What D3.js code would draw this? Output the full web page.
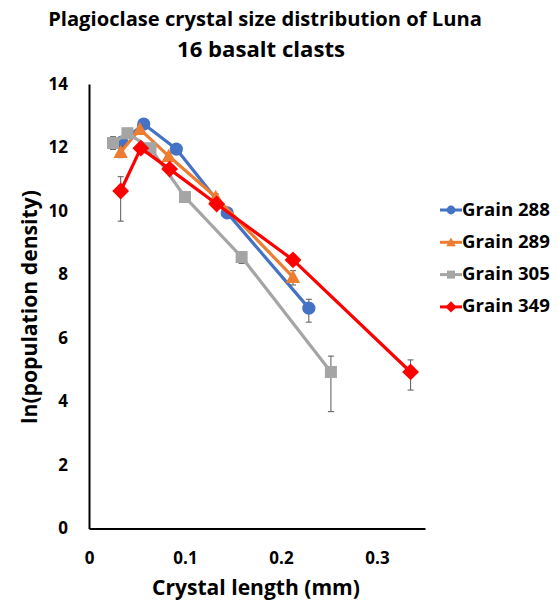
<!DOCTYPE html>
<html><head><meta charset="utf-8">
<script src="https://cdn.jsdelivr.net/npm/d3@7"></script>
<style>body{margin:0;background:#fff}svg{display:block}text{font-family:"Open Sans",Lato,sans-serif;font-weight:bold;fill:#000}</style>
</head><body><svg id="c" width="559" height="603"></svg>
<script>
const title = ["Plagioclase crystal size distribution of Luna", "16 basalt clasts"];
const xLabel = "Crystal length (mm)";
const yLabel = "ln(population density)";
const xTicks = [0, 0.1, 0.2, 0.3];
const yTicks = [0, 2, 4, 6, 8, 10, 12, 14];
const seriesNames = ["Grain 288", "Grain 289", "Grain 305", "Grain 349"];
const seriesColors = ["#4472C4", "#ED7D31", "#A5A5A5", "#FF0000"];
const seriesShapes = ["circle", "triangle", "square", "diamond"];

const x288 = [0.034, 0.057, 0.091, 0.144, 0.229];
const y288 = [12.17, 12.74, 11.95, 9.94, 6.94];
const ep288 = [0.15, 0.1, 0.1, 0.1, 0.28];
const em288 = [0.15, 0.1, 0.1, 0.1, 0.44];

const x289 = [0.033, 0.053, 0.083, 0.132, 0.2125];
const y289 = [11.86, 12.58, 11.73, 10.44, 7.92];
const ep289 = [0.18, 0.1, 0.1, 0.1, 0.2];
const em289 = [0.18, 0.1, 0.1, 0.1, 0.25];

const x305 = [0.025, 0.040, 0.064, 0.100, 0.159, 0.252];
const y305 = [12.14, 12.45, 11.98, 10.44, 8.55, 4.93];
const ep305 = [0.2, 0.1, 0.1, 0.1, 0.15, 0.5];
const em305 = [0.2, 0.1, 0.1, 0.1, 0.2, 1.25];

const x349 = [0.033, 0.054, 0.084, 0.133, 0.2125, 0.335];
const y349 = [10.63, 11.98, 11.32, 10.22, 8.46, 4.93];
const ep349 = [0.45, 0.1, 0.1, 0.1, 0.15, 0.38];
const em349 = [0.95, 0.1, 0.1, 0.1, 0.15, 0.57];

const seriesX = [x288, x289, x305, x349];
const seriesY = [y288, y289, y305, y349];
const seriesEP = [ep288, ep289, ep305, ep349];
const seriesEM = [em288, em289, em305, em349];

const svg = d3.select("#c");
const xs = d3.scaleLinear().domain([0, 0.35]).range([89, 425]);
const ys = d3.scaleLinear().domain([0, 14]).range([528.5, 84]);

function fit(sel, w) {
  const fs = +sel.attr("font-size");
  const cur = sel.node().getComputedTextLength();
  if (cur > 0) sel.attr("font-size", (fs * w / cur).toFixed(2));
  return sel;
}

fit(svg.append("text").attr("x", 265).attr("y", 26).attr("text-anchor", "middle").attr("font-size", 18).text(title[0]), 434);
fit(svg.append("text").attr("x", 261).attr("y", 57).attr("text-anchor", "middle").attr("font-size", 18).text(title[1]), 168);

const xAxis = svg.append("g").attr("transform", `translate(0,${ys(0)})`)
  .call(d3.axisBottom(xs).tickValues(xTicks).tickSize(0).tickPadding(23).tickFormat(d => d === 0 ? "0" : d3.format(".1f")(d)));
xAxis.select(".domain").attr("stroke", "#000").attr("stroke-width", 2);
xAxis.selectAll("text").attr("font-size", 17).attr("font-family", "Open Sans").attr("font-weight", "bold");

const yAxis = svg.append("g").attr("transform", `translate(${xs(0)},0)`)
  .call(d3.axisLeft(ys).tickValues(yTicks).tickSize(0).tickPadding(21));
yAxis.select(".domain").attr("stroke", "#000").attr("stroke-width", 2);
yAxis.selectAll("text").attr("font-size", 17).attr("font-family", "Open Sans").attr("font-weight", "bold");

fit(svg.append("text").attr("x", 256).attr("y", 595).attr("text-anchor", "middle").attr("font-size", 18).text(xLabel), 208);
fit(svg.append("text").attr("transform", "translate(37,307) rotate(-90)").attr("text-anchor", "middle").attr("font-size", 18).text(yLabel), 234);

function marker(g, shape, color, cx, cy, s) {
  if (shape === "circle") g.append("circle").attr("cx", cx).attr("cy", cy).attr("r", s * 0.55).attr("fill", color);
  else if (shape === "square") g.append("rect").attr("x", cx - s * 0.5).attr("y", cy - s * 0.5).attr("width", s).attr("height", s).attr("fill", color);
  else if (shape === "triangle") g.append("path").attr("d", `M${cx},${cy - s * 0.6}L${cx + s * 0.6},${cy + s * 0.5}L${cx - s * 0.6},${cy + s * 0.5}Z`).attr("fill", color);
  else if (shape === "diamond") g.append("path").attr("d", `M${cx},${cy - s * 0.7}L${cx + s * 0.7},${cy}L${cx},${cy + s * 0.7}L${cx - s * 0.7},${cy}Z`).attr("fill", color);
}

const line = d3.line().x(d => xs(d[0])).y(d => ys(d[1]));

seriesNames.forEach((name, i) => {
  const pts = seriesX[i].map((xv, j) => [xv, seriesY[i][j], seriesEP[i][j], seriesEM[i][j]]);
  const g = svg.append("g");
  pts.forEach(p => {
    const px = xs(p[0]);
    g.append("line").attr("x1", px).attr("x2", px).attr("y1", ys(p[1] + p[2])).attr("y2", ys(p[1] - p[3])).attr("stroke", "#595959").attr("stroke-width", 1);
    [p[1] + p[2], p[1] - p[3]].forEach(v => g.append("line").attr("x1", px - 3).attr("x2", px + 3).attr("y1", ys(v)).attr("y2", ys(v)).attr("stroke", "#595959").attr("stroke-width", 1));
  });
  g.append("path").datum(pts).attr("d", line).attr("fill", "none").attr("stroke", seriesColors[i]).attr("stroke-width", 3.2).attr("stroke-linejoin", "round");
  pts.forEach(p => marker(g, seriesShapes[i], seriesColors[i], xs(p[0]), ys(p[1]), 12));
});

seriesNames.forEach((name, i) => {
  const ly = 210 + i * 32.3;
  const g = svg.append("g");
  g.append("line").attr("x1", 440).attr("x2", 462).attr("y1", ly).attr("y2", ly).attr("stroke", seriesColors[i]).attr("stroke-width", 3);
  marker(g, seriesShapes[i], seriesColors[i], 451, ly, 8);
  fit(g.append("text").attr("x", 462).attr("y", ly + 5.5).attr("font-size", 15).text(name), 88);
});
</script></body></html>
